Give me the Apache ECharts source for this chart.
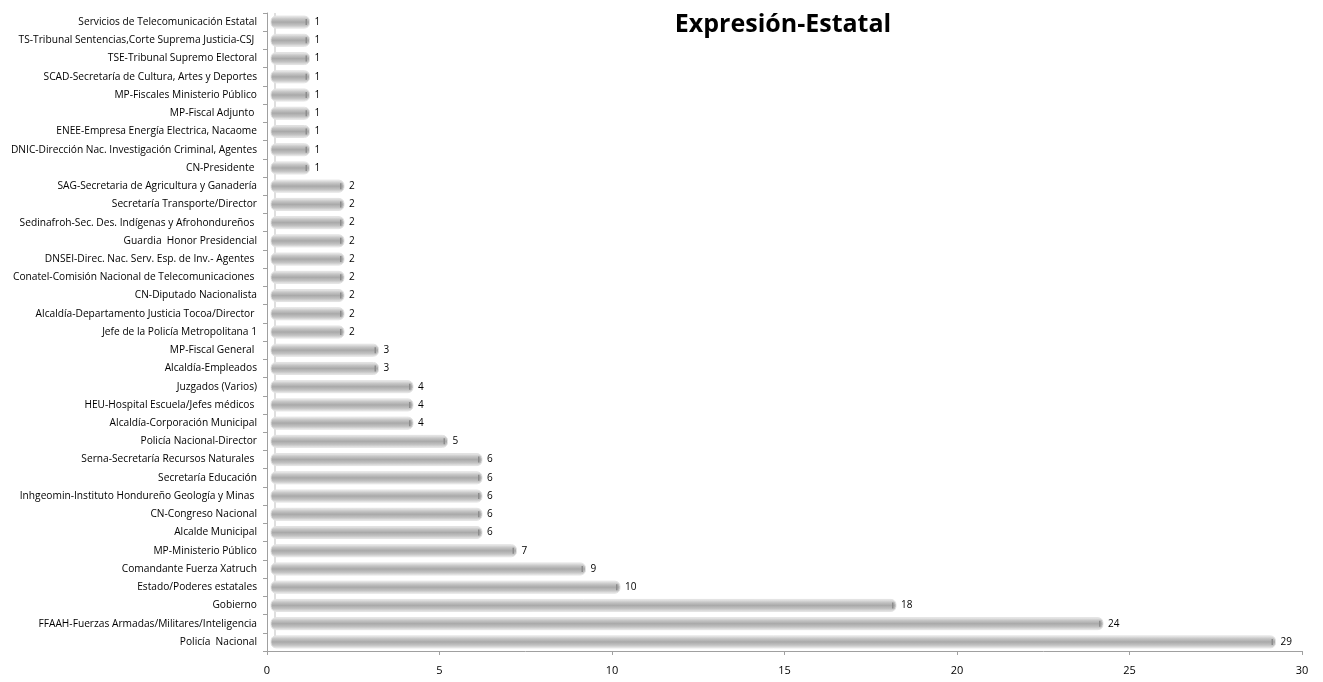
<!DOCTYPE html>
<html><head><meta charset="utf-8">
<script src="https://cdn.jsdelivr.net/npm/echarts@6/dist/echarts.min.js"></script>
<style>html,body{margin:0;padding:0;background:#fff}#c{width:1323px;height:682px}</style>
</head><body><div id="c"></div>
<script>
const categories = [
  "Servicios de Telecomunicación Estatal",
  "TS-Tribunal Sentencias,Corte Suprema Justicia-CSJ ",
  "TSE-Tribunal Supremo Electoral",
  "SCAD-Secretaría de Cultura, Artes y Deportes",
  "MP-Fiscales Ministerio Público",
  "MP-Fiscal Adjunto ",
  "ENEE-Empresa Energía Electrica, Nacaome",
  "DNIC-Dirección Nac. Investigación Criminal, Agentes",
  "CN-Presidente ",
  "SAG-Secretaria de Agricultura y Ganadería",
  "Secretaría Transporte/Director",
  "Sedinafroh-Sec. Des. Indígenas y Afrohondureños ",
  "Guardia  Honor Presidencial",
  "DNSEI-Direc. Nac. Serv. Esp. de Inv.- Agentes ",
  "Conatel-Comisión Nacional de Telecomunicaciones ",
  "CN-Diputado Nacionalista",
  "Alcaldía-Departamento Justicia Tocoa/Director ",
  "Jefe de la Policía Metropolitana 1",
  "MP-Fiscal General ",
  "Alcaldía-Empleados",
  "Juzgados (Varios)",
  "HEU-Hospital Escuela/Jefes médicos ",
  "Alcaldía-Corporación Municipal",
  "Policía Nacional-Director",
  "Serna-Secretaría Recursos Naturales ",
  "Secretaría Educación",
  "Inhgeomin-Instituto Hondureño Geología y Minas ",
  "CN-Congreso Nacional",
  "Alcalde Municipal",
  "MP-Ministerio Público",
  "Comandante Fuerza Xatruch",
  "Estado/Poderes estatales",
  "Gobierno",
  "FFAAH-Fuerzas Armadas/Militares/Inteligencia",
  "Policía  Nacional"
];
const values = [1,1,1,1,1,1,1,1,1,2,2,2,2,2,2,2,2,2,3,3,4,4,4,5,6,6,6,6,6,7,9,10,18,24,29];
const titleText = "Expresión-Estatal";

const chart = echarts.init(document.getElementById('c'));
const fillGrad = new echarts.graphic.LinearGradient(0,0,0,1,[
  {offset:0,color:'#f0f0f0'},
  {offset:0.25,color:'#c6c6c6'},
  {offset:0.5,color:'#a9a9a9'},
  {offset:0.75,color:'#c2c2c2'},
  {offset:1,color:'#ededed'}
]);
function renderBar(params, api){
  const idx = api.value(0);
  const val = api.value(1);
  const p0 = api.coord([0, idx]);
  const p1 = api.coord([val, idx]);
  const h = 12;
  const x0 = p0[0] + 4;
  const x1 = p1[0] + 8;
  return {
    type:'group',
    children:[
      {type:'rect',shape:{x:x0,y:p0[1]-h/2,width:x1-x0,height:h,r:5},
        style:{fill:fillGrad,stroke:'#e2e2e2',lineWidth:1}},
      {type:'rect',shape:{x:x1-4,y:p0[1]-3,width:1.5,height:6},
        style:{fill:'#8c8c8c'}},
      {type:'text',x:x1+5,y:p0[1],
        style:{text:String(val),fontFamily:'Open Sans',fontSize:10,fill:'#000',verticalAlign:'middle',align:'left'}}
    ]
  };
}
chart.setOption({
  animation:false,
  title:{text:titleText,left:778,textAlign:'center',top:7,
    textStyle:{fontFamily:'Open Sans',fontSize:25,fontWeight:'bold',color:'#000'}},
  grid:{left:267,right:21,top:13,bottom:31,containLabel:false},
  xAxis:{type:'value',min:0,max:30,interval:5,
    axisLine:{show:true,lineStyle:{color:'#a0a0a0'}},
    axisTick:{show:true,length:4,lineStyle:{color:'#a0a0a0'}},
    splitLine:{show:false},
    axisLabel:{fontFamily:'Open Sans',fontSize:11,color:'#000',margin:14}},
  yAxis:{type:'category',inverse:true,data:categories,
    axisLine:{show:true,lineStyle:{color:'#a0a0a0'}},
    axisTick:{show:true,length:4,lineStyle:{color:'#a0a0a0'}},
    axisLabel:{fontFamily:'Open Sans',fontSize:10.2,color:'#000',margin:10}},
  graphic:[{type:'line',shape:{x1:275,y1:13,x2:275,y2:648},style:{stroke:'#d4d4d4',lineWidth:1.5},z:0}],
  series:[{type:'custom',renderItem:renderBar,
    encode:{x:1,y:0},
    data:values.map((v,i)=>[i,v])}]
});
</script></body></html>
